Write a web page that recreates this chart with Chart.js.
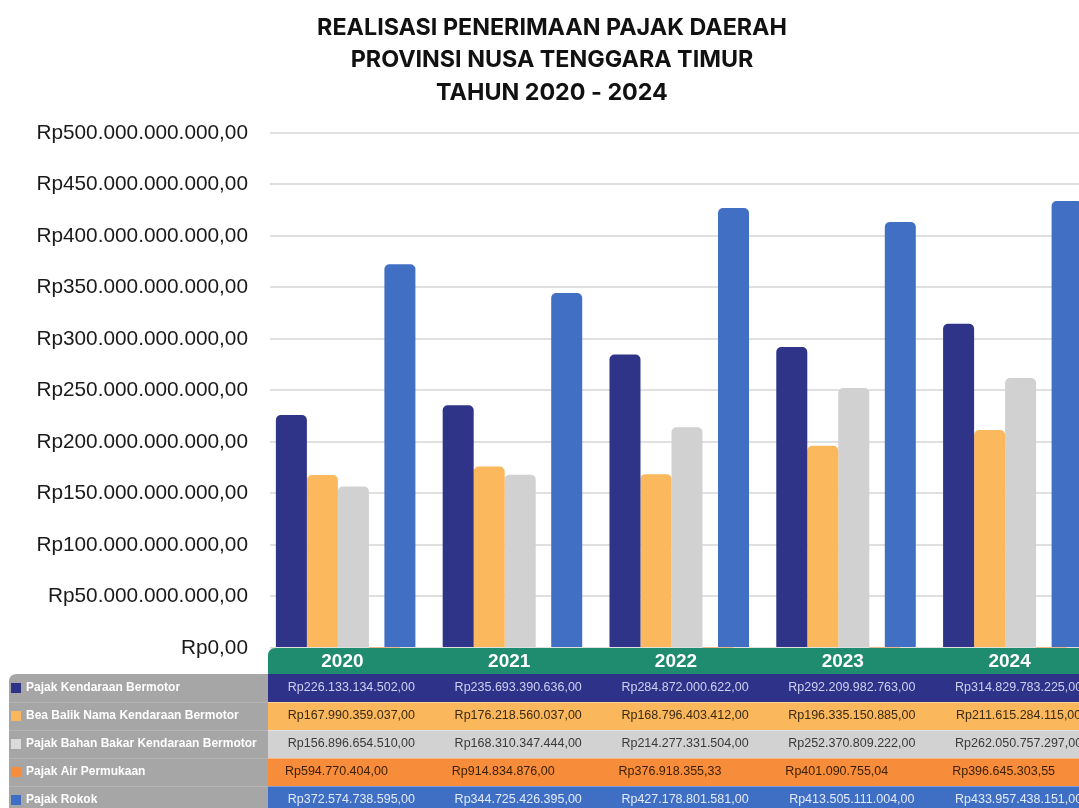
<!DOCTYPE html>
<html lang="id">
<head>
    <meta charset="UTF-8">
    <title>Realisasi Penerimaan Pajak Daerah NTT 2020 - 2024</title>
    <script src="https://cdn.jsdelivr.net/npm/chart.js"></script>
    <style>
        html, body { margin: 0; padding: 0; background: #fff; overflow: hidden; }
        #wrap { width: 1106px; height: 808px; }
    </style>
</head>
<body>
    <div id="wrap"><canvas id="pajakChart"></canvas></div>

    <script>
        const years = ['2020', '2021', '2022', '2023', '2024'];
        const seriesNames = [
            'Pajak Kendaraan Bermotor',
            'Bea Balik Nama Kendaraan Bermotor',
            'Pajak Bahan Bakar Kendaraan Bermotor',
            'Pajak Air Permukaan',
            'Pajak Rokok'
        ];
        const kendaraanBermotor = [226133134502, 235693390636, 284872000622, 292209982763, 314829783225];
        const beaBalikNama = [167990359037, 176218560037, 168796403412, 196335150885, 211615284115];
        const bahanBakar = [156896654510, 168310347444, 214277331504, 252370809222, 262050757297];
        const airPermukaan = [594770404.00, 914834876.00, 376918355.33, 401090755.04, 396645303.55];
        const rokok = [372574738595, 344725426395, 427178801581, 413505111004, 433957438151];
        const yMax = 500000000000;
        const yStep = 50000000000;

        const allSeries = [kendaraanBermotor, beaBalikNama, bahanBakar, airPermukaan, rokok];
        const barColors = ['#2f3488', '#fbb85c', '#d1d1d1', '#f68c3a', '#416fc4'];
        const rowBg = ['#2e3289', '#fbb75c', '#d2d2d2', '#f78d3a', '#3f6fc4'];
        const rowText = ['#cdd0f0', '#3a2a12', '#3a3a3a', '#3a1e00', '#e2eaf8'];
        const markerColors = ['#2e3289', '#fbb75c', '#dadada', '#f78d3a', '#3f6fc4'];
        // Pajak Rokok sedikit lebih dekat ke kelompok batang lain
        const catPct = [0.9295, 0.9295, 0.9295, 0.9295, 0.697];
        const barPct = [1, 1, 1, 1, 1.3333];

        // format angka ala Rupiah: Rp1.234.567,89
        function rupiah(v) {
            const parts = v.toFixed(2).split('.');
            return 'Rp' + parts[0].replace(/\B(?=(\d{3})+(?!\d))/g, '.') + ',' + parts[1];
        }

        function roundTopLeft(ctx, x, y, w, h, r) {
            ctx.beginPath();
            ctx.moveTo(x, y + h);
            ctx.lineTo(x, y + r);
            ctx.quadraticCurveTo(x, y, x + r, y);
            ctx.lineTo(x + w, y);
            ctx.lineTo(x + w, y + h);
            ctx.closePath();
            ctx.fill();
        }

        // tabel data di bawah grafik
        const dataTable = {
            id: 'dataTable',
            afterDraw(chart) {
                const ctx = chart.ctx;
                const area = chart.chartArea;
                const xs = chart.scales.x;
                const right = chart.width;
                const headTop = area.bottom;
                const headH = 26;
                const rowH = 28;
                const tableTop = headTop + headH;
                ctx.save();

                // header tahun
                ctx.fillStyle = '#1f8b6f';
                roundTopLeft(ctx, area.left - 2, headTop, right - area.left + 2, headH, 8);
                ctx.fillStyle = '#ffffff';
                ctx.font = 'bold 19px "Liberation Sans", Arial, sans-serif';
                ctx.textAlign = 'center';
                ctx.textBaseline = 'middle';
                years.forEach((y, i) => {
                    ctx.fillText(y, xs.getPixelForValue(i) - 11, headTop + headH / 2 + 1);
                });

                // panel nama seri
                ctx.fillStyle = '#a6a6a6';
                roundTopLeft(ctx, 9, tableTop, area.left - 11, chart.height - tableTop, 8);

                seriesNames.forEach((name, r) => {
                    const top = tableTop + r * rowH;
                    ctx.fillStyle = rowBg[r];
                    ctx.fillRect(area.left - 2, top, right - area.left + 2, rowH);

                    if (r > 0) {
                        ctx.fillStyle = 'rgba(255,255,255,0.35)';
                        ctx.fillRect(area.left - 2, top, right - area.left + 2, 1);
                        ctx.fillStyle = '#b4b4b4';
                        ctx.fillRect(9, top, area.left - 11, 1);
                    }

                    ctx.fillStyle = markerColors[r];
                    ctx.fillRect(11, top + rowH / 2 - 5, 10, 10);
                    ctx.fillStyle = '#ffffff';
                    ctx.font = 'bold 12px "Liberation Sans", Arial, sans-serif';
                    ctx.textAlign = 'left';
                    ctx.fillText(name, 26, top + rowH / 2);

                    ctx.fillStyle = rowText[r];
                    ctx.font = '12.5px "Liberation Sans", Arial, sans-serif';
                    ctx.textAlign = 'center';
                    const shift = r === 3 ? -17 : -2;
                    allSeries[r].forEach((v, i) => {
                        ctx.fillText(rupiah(v), xs.getPixelForValue(i) + shift, top + rowH / 2);
                    });
                });
                ctx.restore();
            }
        };

        const ctx = document.getElementById('pajakChart').getContext('2d');
        new Chart(ctx, {
            type: 'bar',
            data: {
                labels: years,
                datasets: seriesNames.map((name, i) => ({
                    label: name,
                    data: allSeries[i],
                    backgroundColor: barColors[i],
                    borderRadius: 5,
                    borderSkipped: 'start',
                    categoryPercentage: catPct[i],
                    barPercentage: barPct[i]
                }))
            },
            options: {
                responsive: true,
                maintainAspectRatio: false,
                animation: false,
                layout: { padding: { left: 0, right: 2, top: 0, bottom: 0 } },
                plugins: {
                    legend: { display: false },
                    tooltip: { enabled: false },
                    title: {
                        display: true,
                        text: ['REALISASI PENERIMAAN PAJAK DAERAH', 'PROVINSI NUSA TENGGARA TIMUR', 'TAHUN 2020 - 2024'],
                        color: '#111111',
                        font: { family: 'Inter, Roboto, "Liberation Sans", sans-serif', size: 23.3, weight: 'bold', lineHeight: 1.416 },
                        padding: { top: 11, bottom: 23 }
                    }
                },
                scales: {
                    x: {
                        ticks: { display: false },
                        grid: { display: false },
                        border: { display: false },
                        afterFit(s) { s.height = 160; }
                    },
                    y: {
                        min: 0,
                        max: yMax,
                        ticks: {
                            stepSize: yStep,
                            padding: 22,
                            color: '#1a1a1a',
                            font: { family: '"Liberation Sans", Arial, sans-serif', size: 20.8 },
                            callback: v => rupiah(v)
                        },
                        grid: { color: '#e0e0e0', lineWidth: 2, drawTicks: false },
                        border: { display: false },
                        afterFit(s) { s.width = 270; }
                    }
                }
            },
            plugins: [dataTable]
        });
    </script>
</body>
</html>
